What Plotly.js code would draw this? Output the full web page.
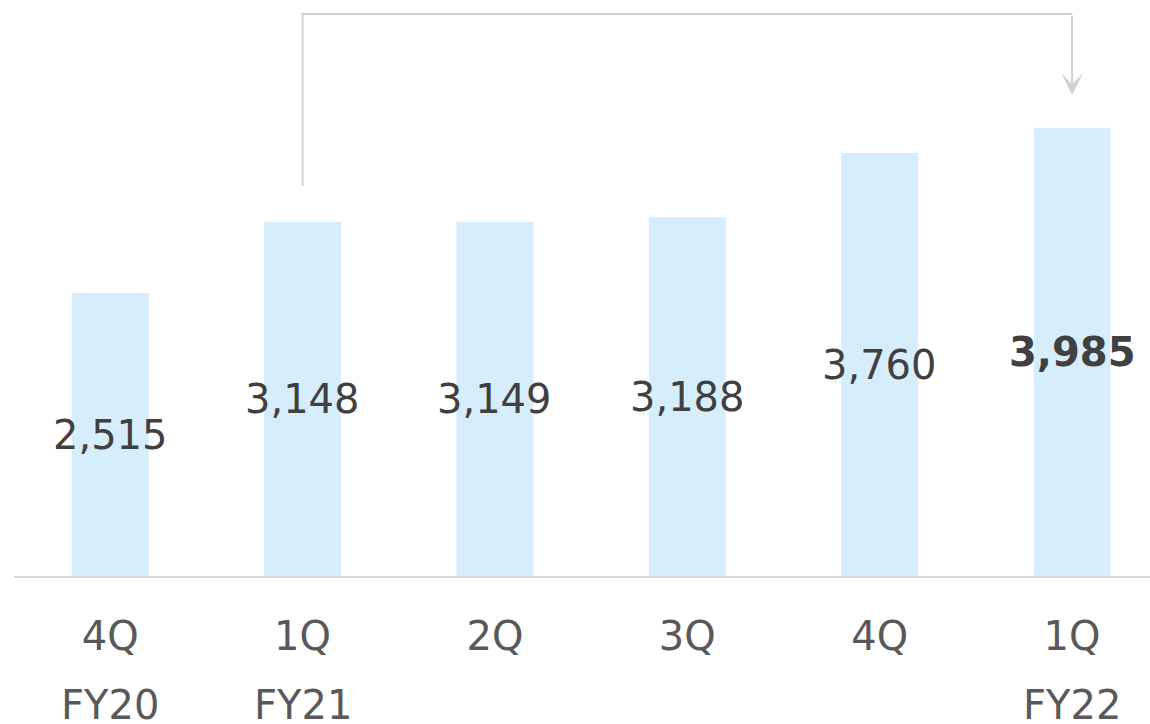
<!DOCTYPE html>
<html>
<head>
<meta charset="utf-8">
<script src="https://cdn.plot.ly/plotly-3.0.1.min.js"></script>
<style>html,body{margin:0;padding:0;background:#fff;}#chart{width:1150px;height:724px;}</style>
</head>
<body>
<div id="chart"></div>
<script>
const quarters = ['4Q', '1Q', '2Q', '3Q', '4Q', '1Q'];
const fiscalYears = ['FY20', 'FY21', '', '', '', 'FY22'];
const values = [2515, 3148, 3149, 3188, 3760, 3985];
const valueLabels = ['2,515', '3,148', '3,149', '3,188', '3,760', '3,985'];

const idx = values.map((v, i) => i);
const FONT = 'DejaVu Sans, Verdana, sans-serif';
const last = values.length - 1;

const annotations = [];
values.forEach((v, i) => {
  annotations.push({
    x: i, y: v / 2, xref: 'x', yref: 'y',
    text: i === last ? '<b>' + valueLabels[i] + '</b>' : valueLabels[i],
    showarrow: false,
    font: {family: FONT, size: 40, color: '#404040'},
    xanchor: 'center', yanchor: 'middle'
  });
  if (fiscalYears[i]) {
    annotations.push({
      x: i, y: -0.224, xref: 'x', yref: 'paper',
      text: fiscalYears[i], showarrow: false,
      font: {family: FONT, size: 40, color: '#595959'},
      xanchor: 'center', yanchor: 'middle'
    });
  }
});

// connector arrow from FY21 1Q to FY22 1Q
const topY = 4996, startY = 3467, tipY = 4276;
annotations.push({
  x: last, y: tipY, xref: 'x', yref: 'y',
  ax: last, ay: topY, axref: 'x', ayref: 'y',
  text: '', showarrow: true, arrowhead: 3, arrowsize: 1.8, arrowwidth: 2,
  arrowcolor: '#d0d0d0', standoff: 0, startstandoff: 0
});

const shapes = [{
  type: 'path', xref: 'x', yref: 'y',
  path: `M 1,${startY} L 1,${topY} L ${last},${topY}`,
  line: {color: '#d0d0d0', width: 2}
}];

const trace = {
  type: 'bar', x: idx, y: values,
  marker: {color: '#d6edfb'},
  width: 0.4,
  hoverinfo: 'none'
};

const layout = {
  width: 1150, height: 724,
  margin: {l: 14, r: 0, t: 0, b: 148},
  paper_bgcolor: '#ffffff', plot_bgcolor: '#ffffff',
  showlegend: false,
  xaxis: {
    range: [-0.5, 5.405],
    tickvals: idx, ticktext: quarters,
    tickfont: {family: FONT, size: 40, color: '#595959'},
    showline: true, linecolor: '#d9d9d9', linewidth: 2,
    showgrid: false, zeroline: false, ticks: '',
    ticklabelstandoff: 24
  },
  yaxis: {
    range: [0, 5120], visible: false, showgrid: false, zeroline: false
  },
  annotations: annotations,
  shapes: shapes
};

Plotly.newPlot('chart', [trace], layout, {displayModeBar: false, staticPlot: true});
</script>
</body>
</html>
